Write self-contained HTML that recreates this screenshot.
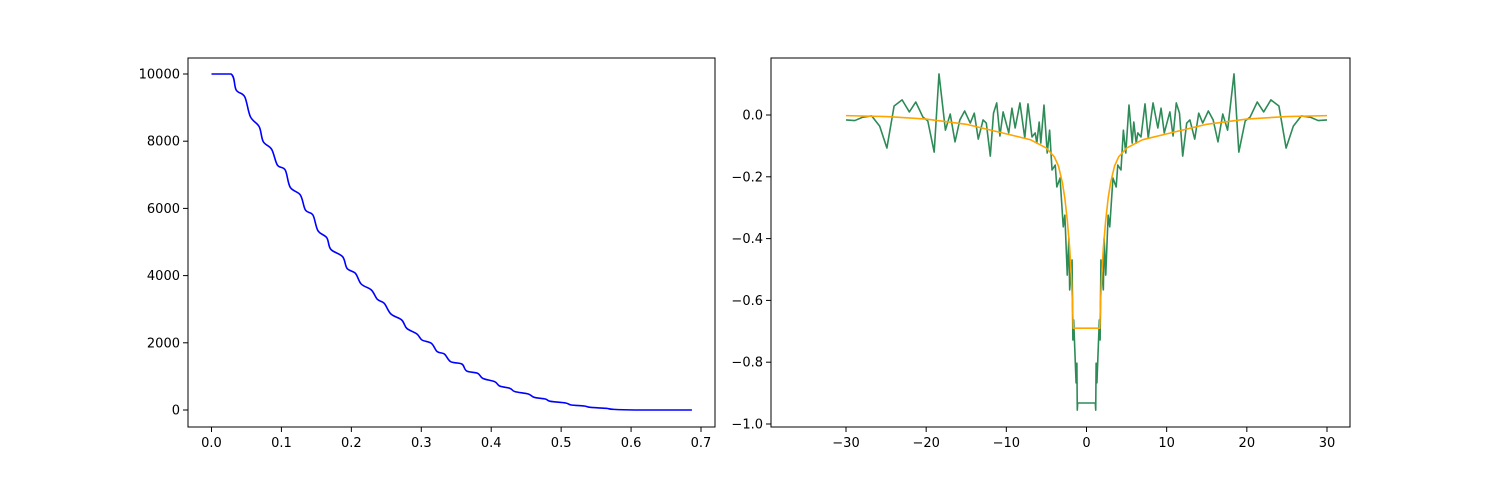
<!DOCTYPE html>
<html><head><meta charset="utf-8"><style>
body{margin:0;background:#fff;}
svg{display:block;font-family:"DejaVu Sans","Liberation Sans",sans-serif;font-size:13px;}
</style></head><body>
<svg id="fig" width="1500" height="480" viewBox="0 0 1500 480">
<rect width="1500" height="480" fill="#fff"/>
<g id="left"></g>
<g id="right"></g>
</svg>
<script>
// Left chart data
const decayX = [0.0,0.028,0.0353,0.0474,0.0556,0.0682,0.074,0.086,0.0942,0.1054,0.1126,0.1271,0.1343,0.145,0.1522,0.1648,0.1706,0.1875,0.1938,0.2058,0.214,0.2286,0.2372,0.247,0.2566,0.272,0.2793,0.2938,0.301,0.3145,0.3228,0.333,0.342,0.358,0.3648,0.3807,0.388,0.405,0.412,0.4267,0.434,0.453,0.4614,0.4774,0.4846,0.5064,0.5145,0.533,0.5416,0.5643,0.574,0.6054,0.687];
const decayY = [10000,10000,9524,9325,8730,8432,7986,7758,7291,7142,6627,6398,5952,5803,5337,5128,4782,4563,4216,4068,3750,3571,3293,3174,2857,2678,2430,2262,2083,1984,1736,1667,1438,1369,1161,1091,942,843,714,645,546,476,377,327,258,208,149,119,79,50,20,0,0];
const leftXTicks = [0,0.1,0.2,0.3,0.4,0.5,0.6,0.7];
const leftXTickLabels = ["0.0","0.1","0.2","0.3","0.4","0.5","0.6","0.7"];
const leftYTicks = [0,2000,4000,6000,8000,10000];
const leftYTickLabels = ["0","2000","4000","6000","8000","10000"];

// Right chart data
const fitX = [-30,-25,-20,-15,-10,-7,-5,-4,-3.5,-3,-2.7,-2.4,-2.1,-1.9,-1.75,-1.65,1.65,1.75,1.9,2.1,2.4,2.7,3,3.5,4,5,7,10,15,20,25,30];
const fitY = [-0.002,-0.005,-0.013,-0.03,-0.061,-0.08,-0.107,-0.136,-0.165,-0.22,-0.27,-0.34,-0.43,-0.52,-0.61,-0.69,-0.69,-0.61,-0.52,-0.43,-0.34,-0.27,-0.22,-0.165,-0.136,-0.107,-0.08,-0.061,-0.03,-0.013,-0.005,-0.002];
const sigX = [-30,-28.9,-27.9,-26.8,-25.8,-24.9,-24,-23,-22.1,-21.3,-20.4,-19.8,-19,-18.4,-17.6,-17,-16.4,-15.8,-15.2,-14.5,-14,-13.5,-12.9,-12.5,-12,-11.6,-11.2,-10.8,-10.4,-9.7,-9.3,-8.9,-8.3,-7.7,-7.3,-6.8,-6.4,-6.2,-5.9,-5.7,-5.3,-4.9,-4.6,-4.3,-3.9,-3.7,-3.3,-2.9,-2.7,-2.4,-2.2,-2.1,-1.8,-1.7,-1.6,-1.3,-1.2,-1.15,-1.1,
1.1,1.15,1.2,1.3,1.6,1.7,1.8,2.1,2.2,2.4,2.7,2.9,3.3,3.7,3.9,4.3,4.6,4.9,5.3,5.7,5.9,6.2,6.4,6.8,7.3,7.7,8.3,8.9,9.3,9.7,10.4,10.8,11.2,11.6,12,12.5,12.9,13.5,14,14.5,15.2,15.8,16.4,17,17.6,18.4,19,19.8,20.4,21.3,22.1,23,24,24.9,25.8,26.8,27.9,28.9,30];
const sigY = [-0.016,-0.018,-0.007,-0.003,-0.036,-0.107,0.029,0.049,0.01,0.042,-0.007,-0.019,-0.12,0.133,-0.049,0.003,-0.087,-0.016,0.013,-0.026,0.006,-0.078,-0.016,-0.026,-0.133,0.006,0.039,-0.068,0.01,-0.058,0.022,-0.042,0.039,-0.074,0.036,-0.071,-0.058,-0.091,-0.023,-0.091,0.032,-0.123,-0.049,-0.178,-0.162,-0.233,-0.204,-0.362,-0.324,-0.518,-0.398,-0.566,-0.469,-0.728,-0.663,-0.867,-0.803,-0.955,-0.932,
-0.932,-0.955,-0.803,-0.867,-0.663,-0.728,-0.469,-0.566,-0.398,-0.518,-0.324,-0.362,-0.204,-0.233,-0.162,-0.178,-0.049,-0.123,0.032,-0.091,-0.023,-0.091,-0.058,-0.071,0.036,-0.074,0.039,-0.042,0.022,-0.058,0.01,-0.068,0.039,0.006,-0.133,-0.026,-0.016,-0.078,0.006,-0.026,0.013,-0.016,-0.087,0.003,-0.049,0.133,-0.12,-0.019,-0.007,0.042,0.01,0.049,0.029,-0.107,-0.036,-0.003,-0.007,-0.018,-0.016];
const rightXTicks = [-30,-20,-10,0,10,20,30];
const rightXTickLabels = ["\u221230","\u221220","\u221210","0","10","20","30"];
const rightYTicks = [0,-0.2,-0.4,-0.6,-0.8,-1.0];
const rightYTickLabels = ["0.0","\u22120.2","\u22120.4","\u22120.6","\u22120.8","\u22121.0"];

const NS="http://www.w3.org/2000/svg";
function mk(tag, attrs, parent){const e=document.createElementNS(NS,tag);for(const k in attrs)e.setAttribute(k,attrs[k]);parent.appendChild(e);return e;}
function lin(d0,d1,p0,p1){return v=>p0+(v-d0)*(p1-p0)/(d1-d0);}

function catmull(pts){
  let d="M"+pts[0][0].toFixed(2)+","+pts[0][1].toFixed(2);
  for(let i=0;i<pts.length-1;i++){
    const p1=pts[i],p2=pts[i+1];
    if(Math.abs(p1[1]-p2[1])<0.01){d+=" L"+p2[0].toFixed(2)+","+p2[1].toFixed(2);continue;}
    const p0=pts[Math.max(0,i-1)],p3=pts[Math.min(pts.length-1,i+2)];
    const c1=[p1[0]+(p2[0]-p0[0])/6,p1[1]+(p2[1]-p0[1])/6];
    const c2=[p2[0]-(p3[0]-p1[0])/6,p2[1]-(p3[1]-p1[1])/6];
    d+=" C"+c1[0].toFixed(2)+","+c1[1].toFixed(2)+" "+c2[0].toFixed(2)+","+c2[1].toFixed(2)+" "+p2[0].toFixed(2)+","+p2[1].toFixed(2);
  }
  return d;
}

function axes(g, box, xs, ys, xt, xl, yt, yl, prefix){
  mk('rect',{x:box.l,y:box.t,width:box.r-box.l,height:box.b-box.t,fill:'none',stroke:'#000','stroke-width':1},g);
  xt.forEach((v,i)=>{
    const x=xs(v);
    const t=mk('line',{x1:x,y1:box.b,x2:x,y2:box.b+5,stroke:'#000','stroke-width':1},g);
    
    
    const tx=mk('text',{x:x,y:box.b+20,'text-anchor':'middle',fill:'#000'},g);
    tx.textContent=xl[i];
    
    
  });
  yt.forEach((v,i)=>{
    const y=ys(v);
    const t=mk('line',{x1:box.l-5,y1:y,x2:box.l,y2:y,stroke:'#000','stroke-width':1},g);
    
    
    const tx=mk('text',{x:box.l-8,y:y+4.5,'text-anchor':'end',fill:'#000'},g);
    tx.textContent=yl[i];
    
    
  });
}

// Left
const L={l:188,r:715,t:58,b:427};
const lx=lin(0,0.7,211.5,701), ly=lin(0,10000,410,74);
const gl=document.getElementById('left');
const lp=mk('path',{d:catmull(decayX.map((v,i)=>[lx(v),ly(decayY[i])])),fill:'none',stroke:'#0000ff','stroke-width':1.6,'stroke-linejoin':'round'},gl);


axes(gl,L,lx,ly,leftXTicks,leftXTickLabels,leftYTicks,leftYTickLabels,'left');

// Right
const R={l:771,r:1350,t:58,b:427};
const rx=lin(-30,30,846,1327), ry=lin(0,-1,115,424);
const gr=document.getElementById('right');
const gp=mk('polyline',{points:sigX.map((v,i)=>rx(v).toFixed(2)+","+ry(sigY[i]).toFixed(2)).join(" "),fill:'none',stroke:'#2e8b57','stroke-width':1.6,'stroke-linejoin':'round'},gr);


const fp=mk('polyline',{points:fitX.map((v,i)=>rx(v).toFixed(2)+","+ry(fitY[i]).toFixed(2)).join(" "),fill:'none',stroke:'#ffa500','stroke-width':1.6,'stroke-linejoin':'round'},gr);


axes(gr,R,rx,ry,rightXTicks,rightXTickLabels,rightYTicks,rightYTickLabels,'right');
</script>
</body></html>
